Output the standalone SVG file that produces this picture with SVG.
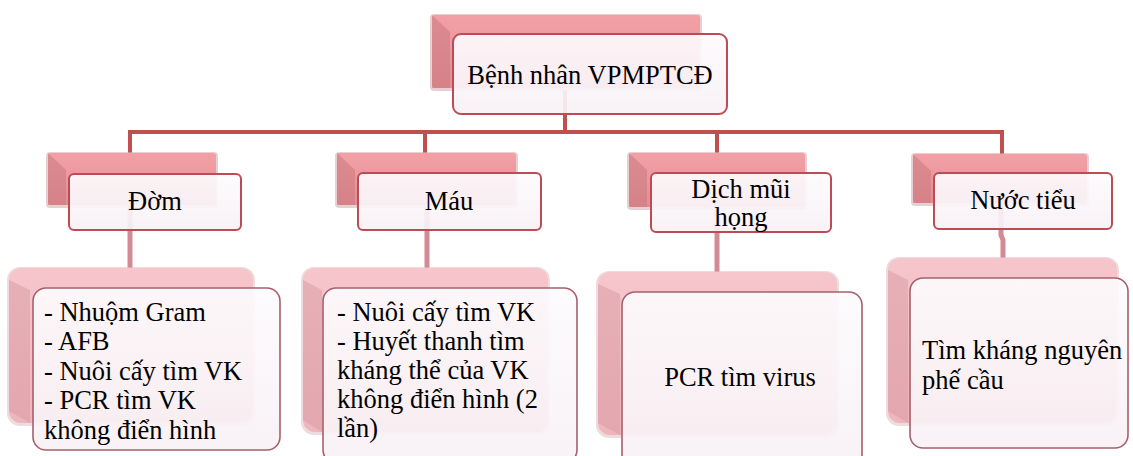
<svg xmlns="http://www.w3.org/2000/svg" width="1133" height="456" viewBox="0 0 1133 456">
<defs>
  <linearGradient id="backG" x1="0" y1="0" x2="0" y2="1">
    <stop offset="0" stop-color="#f2a0a6"/>
    <stop offset="1" stop-color="#e48d94"/>
  </linearGradient>
  <linearGradient id="backL" x1="0" y1="0" x2="0" y2="1">
    <stop offset="0" stop-color="#f6c6cc"/>
    <stop offset="1" stop-color="#eeb5bc"/>
  </linearGradient>
  <linearGradient id="frontG" x1="0" y1="0" x2="0" y2="1">
    <stop offset="0" stop-color="#fdfbfd"/>
    <stop offset="1" stop-color="#f8f1f5"/>
  </linearGradient>
</defs>

<g id="connectors" fill="none">
  <path stroke="#c0504d" stroke-width="4" d="M565 90 V132 M130 132 H1002 M130 130 V155 M425 130 V155 M717 130 V155 M1002 130 V155"/>
  <path stroke="#d38a94" stroke-width="5" d="M130 205 V270 M427 205 V270 M717 207 V274 M1001 203 V235 L1003 240 V260"/>
</g>

<g font-family="Liberation Serif" font-size="26.5" fill="#000">

<g id="root">
  <rect fill="#d9b0b4" opacity="0.6" x="430" y="14" width="272" height="77" rx="4"/>
  <rect fill="url(#backG)" x="432" y="15" width="268" height="73" rx="3"/>
  <polygon fill="#c97a80" opacity="0.55" points="432,15 450,32 450,88 432,88"/>
  <rect fill="url(#frontG)" fill-opacity="0.92" stroke="#bd4b55" stroke-width="2" x="453" y="34" width="274" height="80" rx="8"/>
  <text text-anchor="middle" x="590" y="84">Bệnh nhân VPMPTCĐ</text>
</g>

<g id="dom">
  <rect fill="#d9b0b4" opacity="0.6" x="46" y="152" width="172" height="56" rx="4"/>
  <rect fill="url(#backG)" x="48" y="153" width="168" height="52" rx="3"/>
  <polygon fill="#c97a80" opacity="0.55" points="48,153 66,170 66,205 48,205"/>
  <rect fill="url(#frontG)" fill-opacity="0.92" stroke="#bd4b55" stroke-width="2" x="69" y="174" width="172" height="56" rx="5"/>
  <text text-anchor="middle" x="155" y="210">Đờm</text>
</g>

<g id="mau">
  <rect fill="#d9b0b4" opacity="0.6" x="335" y="152" width="183" height="56" rx="4"/>
  <rect fill="url(#backG)" x="337" y="153" width="179" height="52" rx="3"/>
  <polygon fill="#c97a80" opacity="0.55" points="337,153 355,170 355,205 337,205"/>
  <rect fill="url(#frontG)" fill-opacity="0.92" stroke="#bd4b55" stroke-width="2" x="358" y="173" width="183" height="57" rx="5"/>
  <text text-anchor="middle" x="449" y="210">Máu</text>
</g>

<g id="dich">
  <rect fill="#d9b0b4" opacity="0.6" x="627" y="152" width="180" height="58" rx="4"/>
  <rect fill="url(#backG)" x="629" y="153" width="176" height="54" rx="3"/>
  <polygon fill="#c97a80" opacity="0.55" points="629,153 647,170 647,207 629,207"/>
  <rect fill="url(#frontG)" fill-opacity="0.92" stroke="#bd4b55" stroke-width="2" x="651" y="173" width="180" height="59" rx="5"/>
  <text text-anchor="middle" x="741" y="198">Dịch mũi</text>
  <text text-anchor="middle" x="741" y="226">họng</text>
</g>

<g id="nuoctieu">
  <rect fill="#d9b0b4" opacity="0.6" x="911" y="153" width="178" height="53" rx="4"/>
  <rect fill="url(#backG)" x="913" y="154" width="174" height="49" rx="3"/>
  <polygon fill="#c97a80" opacity="0.55" points="913,154 931,171 931,203 913,203"/>
  <rect fill="url(#frontG)" fill-opacity="0.92" stroke="#bd4b55" stroke-width="2" x="934" y="173" width="178" height="56" rx="5"/>
  <text text-anchor="middle" x="1023" y="209">Nước tiểu</text>
</g>

<g id="dom-tests">
  <rect fill="#e3c3c7" opacity="0.6" x="7" y="267" width="248" height="159" rx="13"/>
  <rect fill="url(#backL)" x="9" y="268" width="244" height="155" rx="12"/>
  <polygon fill="#d79aa2" opacity="0.5" points="9,280 30,290 30,423 9,411"/>
  <rect fill="url(#frontG)" fill-opacity="0.92" stroke="#a5616b" stroke-width="1.6" x="33" y="288" width="247" height="162" rx="13"/>
  <text x="44" y="321">- Nhuộm Gram</text>
  <text x="44" y="350">- AFB</text>
  <text x="44" y="380">- Nuôi cấy tìm VK</text>
  <text x="44" y="409">- PCR tìm VK</text>
  <text x="44" y="439">không điển hình</text>
</g>

<g id="mau-tests">
  <rect fill="#e3c3c7" opacity="0.6" x="301" y="267" width="249" height="168" rx="13"/>
  <rect fill="url(#backL)" x="303" y="268" width="245" height="164" rx="12"/>
  <polygon fill="#d79aa2" opacity="0.5" points="303,280 322,290 322,432 303,420"/>
  <rect fill="url(#frontG)" fill-opacity="0.92" stroke="#a5616b" stroke-width="1.6" x="323" y="288" width="254" height="175" rx="13"/>
  <text x="337" y="321">- Nuôi cấy tìm VK</text>
  <text x="337" y="350">- Huyết thanh tìm</text>
  <text x="337" y="379">kháng thể của VK</text>
  <text x="337" y="408">không điển hình (2</text>
  <text x="337" y="437">lần)</text>
</g>

<g id="dich-tests">
  <rect fill="#e3c3c7" opacity="0.6" x="596" y="271" width="243" height="167" rx="13"/>
  <rect fill="url(#backL)" x="598" y="272" width="239" height="163" rx="12"/>
  <polygon fill="#d79aa2" opacity="0.5" points="598,284 620,294 620,435 598,423"/>
  <rect fill="url(#frontG)" fill-opacity="0.92" stroke="#a5616b" stroke-width="1.6" x="622" y="292" width="240" height="175" rx="13"/>
  <text text-anchor="middle" x="740" y="386">PCR tìm virus</text>
</g>

<g id="nuoctieu-tests">
  <rect fill="#e3c3c7" opacity="0.6" x="886" y="257" width="233" height="169" rx="13"/>
  <rect fill="url(#backL)" x="888" y="258" width="229" height="165" rx="12"/>
  <polygon fill="#d79aa2" opacity="0.5" points="888,270 908,280 908,423 888,411"/>
  <rect fill="url(#frontG)" fill-opacity="0.92" stroke="#a5616b" stroke-width="1.6" x="910" y="278" width="218" height="170" rx="13"/>
  <text x="922" y="359">Tìm kháng nguyên</text>
  <text x="922" y="389">phế cầu</text>
</g>

</g>
</svg>
